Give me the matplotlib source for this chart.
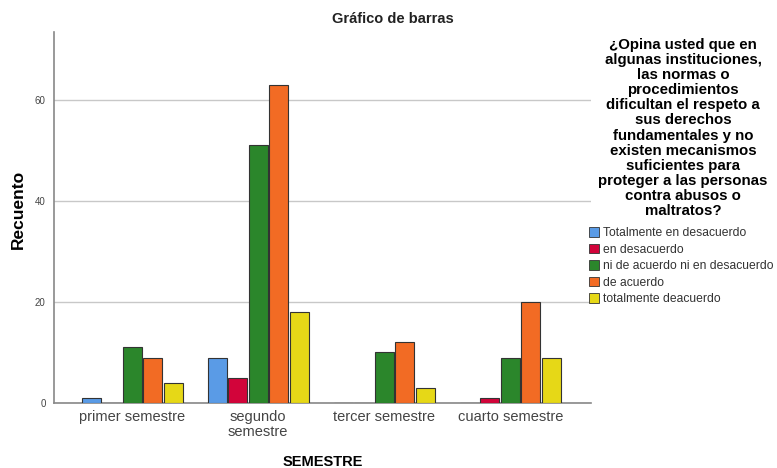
import numpy as np
import matplotlib
matplotlib.use('Agg')
import matplotlib.pyplot as plt
from matplotlib.patches import Patch

plt.rcParams['font.family'] = ['Liberation Sans', 'DejaVu Sans']

# Data
semestres = ['primer semestre', 'segundo\nsemestre', 'tercer semestre', 'cuarto semestre']
respuestas = ['Totalmente en desacuerdo', 'en desacuerdo',
              'ni de acuerdo ni en desacuerdo', 'de acuerdo', 'totalmente deacuerdo']
tot_desacuerdo = [1, 9, 0, 0]
desacuerdo     = [0, 5, 0, 1]
neutral        = [11, 51, 10, 9]
acuerdo        = [9, 63, 12, 20]
tot_acuerdo    = [4, 18, 3, 9]
colores = ['#5a9be6', '#d2043a', '#2b862b', '#f26b24', '#e6d817']

series = [tot_desacuerdo, desacuerdo, neutral, acuerdo, tot_acuerdo]

fig = plt.figure(figsize=(7.77, 4.68), dpi=100)
ax = fig.add_axes([0.0695, 0.139, 0.691, 0.793])

x = np.arange(len(semestres))
step = 0.163
width = 0.15
for i, (vals, col) in enumerate(zip(series, colores)):
    ax.bar(x + (i - 2) * step, vals, width, color=col,
           edgecolor='#333333', linewidth=0.8, zorder=3)

ax.set_xlim(-0.62, 3.64)
ax.set_ylim(0, 73.5)
ax.set_yticks([0, 20, 40, 60])
ax.yaxis.grid(True, color='#c8c8c8', linewidth=1.0, zorder=0)
ax.set_xticks(x)
ax.set_xticklabels(semestres, fontsize=10.5, color='#444444', linespacing=1.1)
ax.tick_params(axis='y', labelsize=7, colors='#444444', length=0, pad=6)
ax.tick_params(axis='x', length=0, pad=5)
for s in ['top', 'right']:
    ax.spines[s].set_visible(False)
for s in ['left', 'bottom']:
    ax.spines[s].set_color('#888888')
    ax.spines[s].set_linewidth(1.2)

fig.text(18 / 777, 1 - 209 / 468, 'Recuento', fontsize=12.5, fontweight='bold',
         rotation=90, ha='center', va='center')
fig.text(323 / 777, 1 - 462 / 468, 'SEMESTRE', fontsize=10.5,
         fontweight='bold', ha='center', va='center')

fig.text(393 / 777, 1 - 19 / 468, 'Gráfico de barras', fontsize=10.5,
         fontweight='bold', ha='center', va='center', color='#222222')

titulo = ('¿Opina usted que en\nalgunas instituciones,\nlas normas o\nprocedimientos\n'
          'dificultan el respeto a\nsus derechos\nfundamentales y no\nexisten mecanismos\n'
          'suficientes para\nproteger a las personas\ncontra abusos o\nmaltratos?')
fig.text(683 / 777, 1 - 38 / 468, titulo, fontsize=10.8, fontweight='bold',
         ha='center', va='top', multialignment='center', linespacing=1.1)

handles = [Patch(facecolor=c, edgecolor='#333333', linewidth=0.6) for c in colores]
fig.legend(handles, respuestas, loc='upper left',
           bbox_to_anchor=(589 / 777, 1 - 227 / 468), frameon=False,
           fontsize=8.7, handlelength=0.85, handleheight=0.85,
           handletextpad=0.3, labelspacing=0.38, borderpad=0, borderaxespad=0,
           labelcolor='#333333')

fig.savefig('out.png', dpi=100)
